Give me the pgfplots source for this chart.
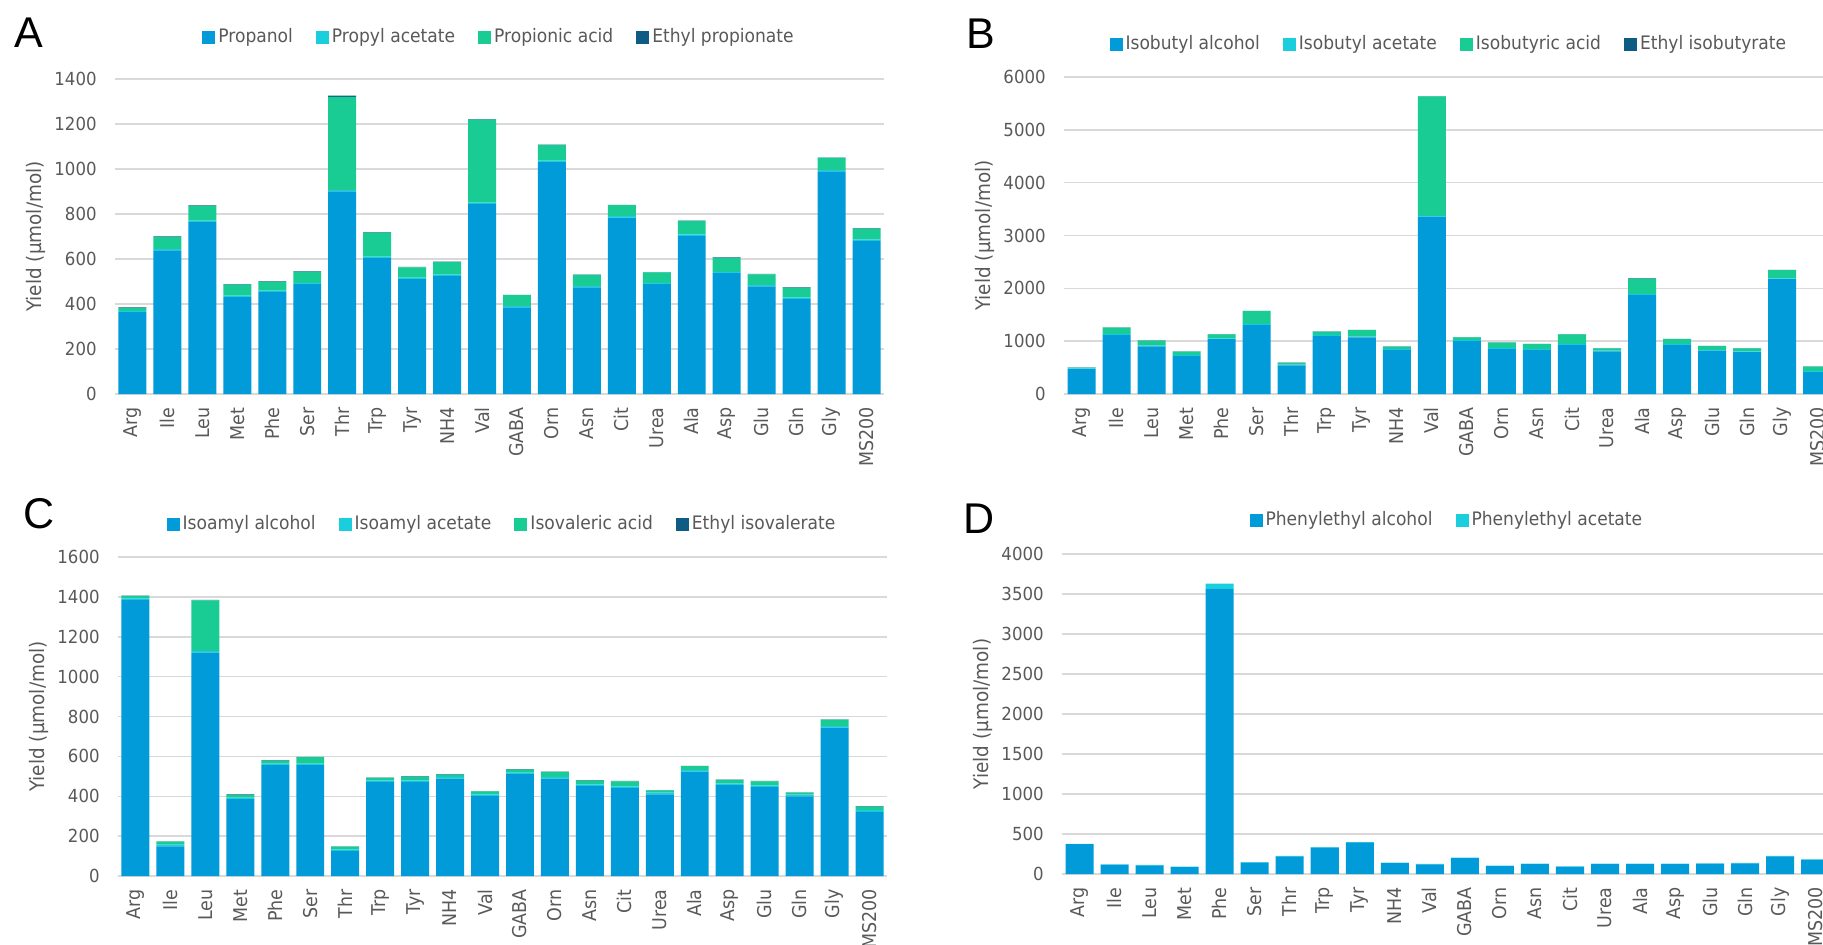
\documentclass[border=0pt]{standalone}
\usepackage{pgfplots}
\pgfplotsset{compat=1.18}
\usepackage{pgfplotstable}
\usepackage{fontspec}
\setmainfont{DejaVu Sans}[FakeStretch=0.92]
\newfontfamily\letterfont{Liberation Sans}

\definecolor{cAlc}{RGB}{0,155,216}
\definecolor{cAce}{RGB}{27,206,222}
\definecolor{cAcid}{RGB}{24,204,148}
\definecolor{cEth}{RGB}{14,92,132}
\definecolor{textgray}{RGB}{89,89,89}
\definecolor{gridgray}{RGB}{217,217,217}

\pgfplotstableread{
i alc acet acid ethyl
0 364 6 13 2
1 638 6 54 2
2 764 6 66 2
3 431 6 49 2
4 454 6 38 2
5 488 6 49 2
6 900 6 415 5
7 604 6 107 2
8 511 6 46 2
9 525 6 55 2
10 845 6 368 3
11 385 6 48 2
12 1031 6 69 2
13 474 6 49 2
14 784 6 49 2
15 488 6 46 2
16 703 6 60 2
17 537 6 62 2
18 478 6 48 2
19 423 6 43 2
20 989 6 54 2
21 681 6 48 2
}\dataA

\pgfplotstableread{
i alc acet acid ethyl
0 472 15 12 5
1 1121 15 118 5
2 900 15 94 5
3 724 15 62 5
4 1039 15 74 5
5 1310 15 244 5
6 541 15 31 5
7 1102 15 62 5
8 1070 15 125 5
9 837 15 43 5
10 3356 15 2260 5
11 1007 15 50 5
12 856 15 100 5
13 837 15 94 5
14 932 15 181 5
15 806 15 43 5
16 1877 15 294 5
17 932 15 93 5
18 819 15 74 5
19 793 15 56 5
20 2172 15 157 5
21 416 15 87 5
}\dataB

\pgfplotstableread{
i alc acet acid ethyl
0 1385 8 11 2
1 149 8 15 2
2 1121 8 254 2
3 385 8 14 2
4 556 8 15 2
5 556 8 32 2
6 126 8 13 2
7 472 8 12 2
8 472 8 19 2
9 489 8 12 2
10 402 8 14 2
11 511 8 15 2
12 489 8 24 2
13 452 8 19 2
14 442 8 25 2
15 410 8 11 2
16 523 8 20 2
17 456 8 18 2
18 447 8 20 2
19 400 8 10 2
20 744 8 32 2
21 322 8 18 2
}\dataC

\pgfplotstableread{
i alc acet
0 372 5
1 116 5
2 108 5
3 87 5
4 3560 71
5 142 5
6 221 5
7 330 5
8 388 10
9 137 5
10 121 5
11 200 5
12 100 5
13 125 5
14 91 5
15 125 5
16 125 5
17 125 5
18 129 5
19 133 5
20 221 5
21 178 5
}\dataD

\pgfplotsset{
  panel/.style={
    ybar stacked, bar width=0.8,
    scale only axis,
    xmin=-0.5, xmax=21.5, ymin=0,
    xtick={0,...,21},
    xticklabels={Arg,Ile,Leu,Met,Phe,Ser,Thr,Trp,Tyr,NH4,Val,GABA,Orn,Asn,Cit,Urea,Ala,Asp,Glu,Gln,Gly,MS200},
    xticklabel style={rotate=90, anchor=east, inner sep=0pt, font=\fontsize{9.5}{10}\selectfont, text=textgray},
    xticklabel shift=6.5pt,
    yticklabel style={inner sep=0pt, font=\fontsize{9}{10}\selectfont, text=textgray},
    yticklabel shift=9pt,
    major tick length=0pt,
    axis line style={draw=none},
    ymajorgrids, grid style={gridgray, line width=0.75pt},
    /pgf/number format/1000 sep={},
    /pgf/number format/assume math mode=true,
    ylabel={Yield (µmol/mol)},
    every axis y label/.style={at={(axis description cs:-0.103,0.5)}, anchor=center, rotate=90, font=\fontsize{10}{12}\selectfont, text=textgray},
    legend columns=-1,
    legend style={draw=none, fill=none, anchor=center, font=\fontsize{9.3}{10}\selectfont, text=textgray,
      /tikz/every odd column/.style={column sep=0pt},
      /tikz/every even column/.style={column sep=10pt},
      nodes={inner sep=1.5pt}},
  },
}

\begin{document}
\begin{tikzpicture}
\useasboundingbox (0,0) rectangle (911.5pt,472pt);
\clip (0,0) rectangle (911.5pt,472pt);

% Panel A
\begin{axis}[panel, at={(57.5pt,275pt)}, anchor=south west, width=384.5pt, height=157.5pt,
  ymax=1400, ytick={0,200,...,1400},
  legend style={at={(axis description cs:0.5,1.133)}},
  legend image code/.code={\fill[#1] (0pt,-3.25pt) rectangle (6.5pt,3.25pt);}]
\addplot[fill=cAlc, draw=none] table[x=i, y=alc] {\dataA};
\addplot[fill=cAce, draw=none] table[x=i, y=acet] {\dataA};
\addplot[fill=cAcid, draw=none] table[x=i, y=acid] {\dataA};
\addplot[fill=cEth, draw=none] table[x=i, y=ethyl] {\dataA};
\legend{Propanol, Propyl acetate, Propionic acid, Ethyl propionate}
\end{axis}

% Panel B
\begin{axis}[panel, at={(532pt,275pt)}, anchor=south west, width=385.35pt, height=158.5pt,
  ymax=6000, ytick={0,1000,...,6000},
  legend style={at={(axis description cs:0.5,1.104)}},
  legend image code/.code={\fill[#1] (0pt,-3.25pt) rectangle (6.5pt,3.25pt);}]
\addplot[fill=cAlc, draw=none] table[x=i, y=alc] {\dataB};
\addplot[fill=cAce, draw=none] table[x=i, y=acet] {\dataB};
\addplot[fill=cAcid, draw=none] table[x=i, y=acid] {\dataB};
\addplot[fill=cEth, draw=none] table[x=i, y=ethyl] {\dataB};
\legend{Isobutyl alcohol, Isobutyl acetate, Isobutyric acid, Ethyl isobutyrate}
\end{axis}

% Panel C
\begin{axis}[panel, at={(59pt,34pt)}, anchor=south west, width=384.5pt, height=159.5pt,
  ymax=1600, ytick={0,200,...,1600},
  legend style={at={(axis description cs:0.5,1.103)}},
  legend image code/.code={\fill[#1] (0pt,-3.25pt) rectangle (6.5pt,3.25pt);}]
\addplot[fill=cAlc, draw=none] table[x=i, y=alc] {\dataC};
\addplot[fill=cAce, draw=none] table[x=i, y=acet] {\dataC};
\addplot[fill=cAcid, draw=none] table[x=i, y=acid] {\dataC};
\addplot[fill=cEth, draw=none] table[x=i, y=ethyl] {\dataC};
\legend{Isoamyl alcohol, Isoamyl acetate, Isovaleric acid, Ethyl isovalerate}
\end{axis}

% Panel D
\begin{axis}[panel, at={(531pt,35pt)}, anchor=south west, width=385.35pt, height=160pt,
  ymax=4000, ytick={0,500,...,4000},
  legend style={at={(axis description cs:0.5,1.106)}},
  legend image code/.code={\fill[#1] (0pt,-3.25pt) rectangle (6.5pt,3.25pt);}]
\addplot[fill=cAlc, draw=none] table[x=i, y=alc] {\dataD};
\addplot[fill=cAce, draw=none] table[x=i, y=acet] {\dataD};
\legend{Phenylethyl alcohol, Phenylethyl acetate}
\end{axis}

\node[font=\letterfont\fontsize{21.5}{24}\selectfont, anchor=center, inner sep=0pt] at (14.5pt,455.5pt) {A};
\node[font=\letterfont\fontsize{21.5}{24}\selectfont, anchor=center, inner sep=0pt] at (490.25pt,455pt) {B};
\node[font=\letterfont\fontsize{21.5}{24}\selectfont, anchor=center, inner sep=0pt] at (19.5pt,215pt) {C};
\node[font=\letterfont\fontsize{21.5}{24}\selectfont, anchor=center, inner sep=0pt] at (489.75pt,212.5pt) {D};
\end{tikzpicture}
\end{document}
